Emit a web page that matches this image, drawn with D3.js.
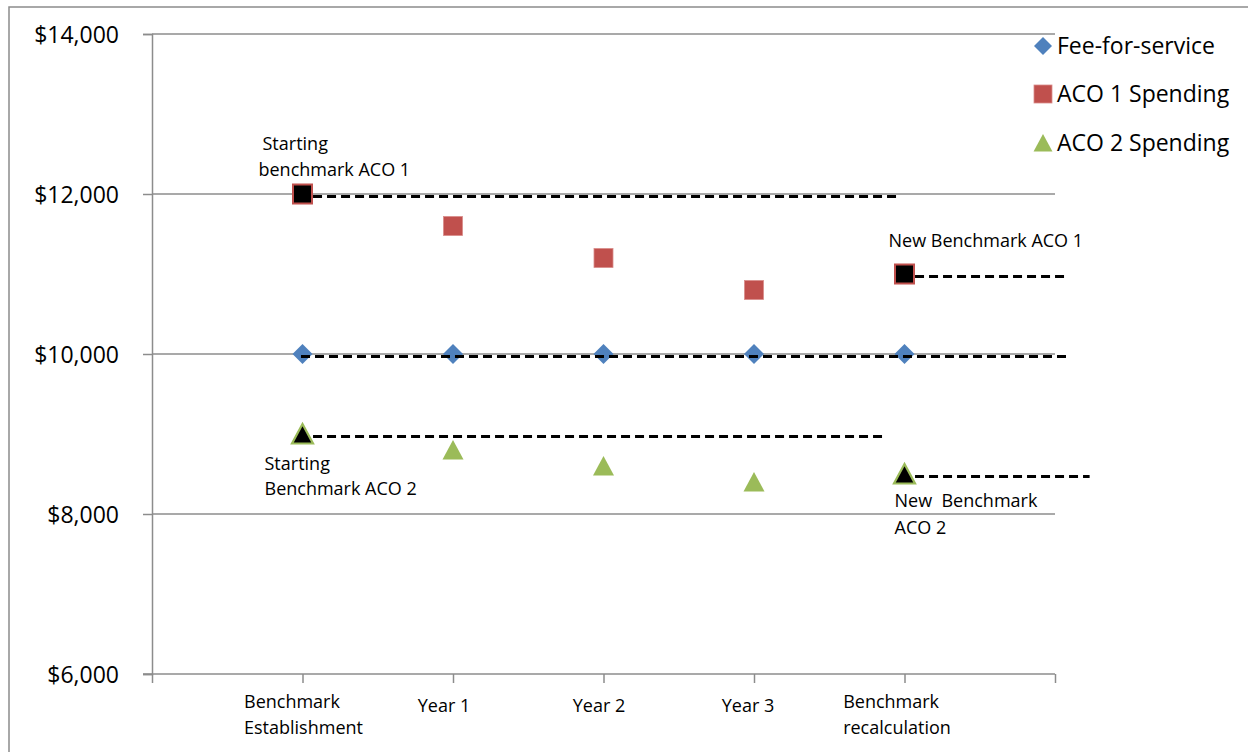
<!DOCTYPE html>
<html>
<head>
<meta charset="utf-8">
<script src="https://cdn.jsdelivr.net/npm/d3@7"></script>
<style>
  html, body { margin: 0; padding: 0; background: #fff; }
  svg { display: block; }
  text { font-family: "Open Sans", "Noto Sans", sans-serif; fill: #000; }
</style>
</head>
<body>
<svg id="chart" width="1248" height="752"></svg>
<script>
// ---------- data ----------
const categories = ["Benchmark\nEstablishment", "Year 1", "Year 2", "Year 3", "Benchmark\nrecalculation"];
const xPositions = [1, 2, 3, 4, 5];
const feeForService = [10000, 10000, 10000, 10000, 10000];
const aco1Spending = [12000, 11600, 11200, 10800, 11000];
const aco2Spending = [9000, 8800, 8600, 8400, 8500];
const benchmarkIndex = [0, 4];
const yTicks = [6000, 8000, 10000, 12000, 14000];
const xTicks = [0, 1, 2, 3, 4, 5, 6];
const seriesNames = ["Fee-for-service", "ACO 1 Spending", "ACO 2 Spending"];
// benchmark reference lines: [level, start x, end x] in data units
const benchLineLevels = [12000, 11000, 10000, 9000, 8500];
const benchLineStart = [1.07, 5.07, 0.99, 1.07, 5.07];
const benchLineEnd = [4.96, 6.08, 6.1, 4.88, 6.23];
const annotationTexts = [
  ["Starting", "benchmark ACO 1"],
  ["New Benchmark ACO 1"],
  ["Starting", "Benchmark ACO 2"],
  ["New\u00a0 Benchmark", "ACO 2"]
];

// ---------- layout ----------
const svg = d3.select("#chart");
const x = d3.scaleLinear().domain([0, 6]).range([152, 1055]);
const y = d3.scaleLinear().domain([6000, 14000]).range([674, 34]);
const colors = { ffs: "#4F81BD", aco1: "#C0504D", aco2: "#9BBB59" };
const gridColor = "#8c8c8c";

// outer frame
svg.append("rect").attr("x", 9).attr("y", 7).attr("width", 1260).attr("height", 770)
  .attr("fill", "none").attr("stroke", "#8c8c8c").attr("stroke-width", 1.5);

// gridlines (horizontal)
svg.append("g").selectAll("line").data(yTicks.filter(d => d !== 6000)).join("line")
  .attr("x1", x(0)).attr("x2", x(6))
  .attr("y1", d => y(d)).attr("y2", d => y(d))
  .attr("stroke", gridColor).attr("stroke-width", 1.5);

// y axis
const yAxis = d3.axisLeft(y).tickValues(yTicks).tickSize(9).tickPadding(24)
  .tickFormat(d => "$" + d3.format(",")(d));
const gy = svg.append("g").attr("transform", `translate(${x(0)},0)`).call(yAxis);
gy.select(".domain").attr("stroke", gridColor).attr("stroke-width", 1.5);
gy.selectAll(".tick line").attr("stroke", gridColor).attr("stroke-width", 1.5);
gy.selectAll(".tick text").attr("font-size", 23).attr("font-family", "Open Sans").attr("fill", "#000")
  .attr("dy", "0.35em");

// x axis
const xAxis = d3.axisBottom(x).tickValues(xTicks).tickSize(9).tickFormat("");
const gx = svg.append("g").attr("transform", `translate(0,${y(6000)})`).call(xAxis);
gx.select(".domain").attr("stroke", gridColor).attr("stroke-width", 1.5)
  .attr("d", `M${x(0) - 9},0H${x(6)}`);
gx.selectAll(".tick line").attr("stroke", gridColor).attr("stroke-width", 1.5);

// category labels
const catDx = [1, -9, -4.5, -6, -7.5];
const catG = svg.append("g");
categories.forEach((c, i) => {
  const lines = c.split("\n");
  const t = catG.append("text").attr("font-size", 18);
  lines.forEach((ln, j) => {
    t.append("tspan").attr("x", 0).attr("y", lines.length > 1 ? 708 + j * 26 : 712).text(ln);
  });
  const w = t.node().getBBox().width;
  const left = x(xPositions[i]) + catDx[i] - w / 2;
  t.selectAll("tspan").attr("x", left);
});

// markers
const diamondPath = s => `M0,${-s}L${s},0L0,${s}L${-s},0Z`;

const pts = svg.append("g");
// fee-for-service diamonds
pts.selectAll("path.ffs").data(feeForService).join("path").attr("class", "ffs")
  .attr("d", diamondPath(10))
  .attr("transform", (d, i) => `translate(${x(xPositions[i])},${y(d)})`)
  .attr("fill", colors.ffs);

// ACO 1 squares
pts.selectAll("rect.aco1").data(aco1Spending).join("rect").attr("class", "aco1")
  .attr("x", (d, i) => x(xPositions[i]) - 9.5).attr("y", d => y(d) - 9.5)
  .attr("width", 19).attr("height", 19)
  .attr("fill", (d, i) => benchmarkIndex.includes(i) ? "#000" : colors.aco1)
  .attr("stroke", (d, i) => benchmarkIndex.includes(i) ? colors.aco1 : "#d98c8a")
  .attr("stroke-width", (d, i) => benchmarkIndex.includes(i) ? 2 : 0.8);

// ACO 2 triangles
const triPath = s => `M0,${-s}L${s * 1.05},${s * 0.95}L${-s * 1.05},${s * 0.95}Z`;
pts.selectAll("path.aco2").data(aco2Spending).join("path").attr("class", "aco2")
  .attr("d", triPath(10))
  .attr("transform", (d, i) => `translate(${x(xPositions[i])},${y(d)})`)
  .attr("fill", (d, i) => benchmarkIndex.includes(i) ? "#000" : colors.aco2)
  .attr("stroke", (d, i) => benchmarkIndex.includes(i) ? colors.aco2 : "none")
  .attr("stroke-width", 2.2).attr("stroke-linejoin", "miter");

// benchmark dashed lines (drawn on top)
svg.append("g").selectAll("line").data(benchLineLevels).join("line")
  .attr("x1", (d, i) => x(benchLineStart[i])).attr("x2", (d, i) => x(benchLineEnd[i]))
  .attr("y1", d => y(d) + 2.5).attr("y2", d => y(d) + 2.5)
  .attr("stroke", "#000").attr("stroke-width", 3).attr("stroke-dasharray", "9,5");

// annotations: anchored to benchmark points
const annAnchor = [[1, 12000], [5, 11000], [1, 9000], [5, 8500]];
const annOffset = [[-44, -44, -18], [-16, -27], [-38, 35.5, 61], [-10, 33, 60]];
const annLineDx = [[4, 0], [0], [0, 0], [0, 0]];
annotationTexts.forEach((lines, k) => {
  const ax = x(annAnchor[k][0]), ay = y(annAnchor[k][1]);
  const t = svg.append("text").attr("font-size", 18);
  lines.forEach((ln, j) => {
    t.append("tspan").attr("x", ax + annOffset[k][0] + annLineDx[k][j]).attr("y", ay + annOffset[k][j + 1]).text(ln);
  });
});

// legend
const legend = svg.append("g");
const legY = [46, 94, 143];
const lx = 1043;
legend.append("path").attr("d", diamondPath(9)).attr("transform", `translate(${lx},${legY[0]})`).attr("fill", colors.ffs);
legend.append("rect").attr("x", lx - 9).attr("y", legY[1] - 9).attr("width", 18).attr("height", 18)
  .attr("fill", colors.aco1).attr("stroke", "#d98c8a").attr("stroke-width", 0.8);
legend.append("path").attr("d", triPath(9)).attr("transform", `translate(${lx},${legY[2]})`).attr("fill", colors.aco2);
legend.selectAll("text").data(seriesNames).join("text")
  .attr("x", 1057).attr("y", (d, i) => legY[i]).attr("dy", "0.36em")
  .attr("font-size", 23).text(d => d);
</script>
</body>
</html>
